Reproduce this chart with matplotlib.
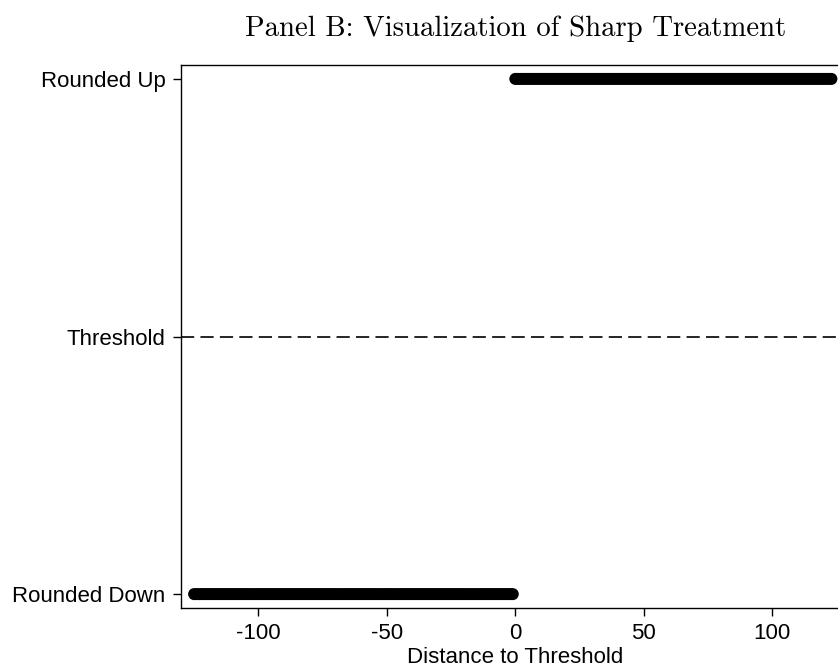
import numpy as np
import matplotlib
matplotlib.use('Agg')
from matplotlib import pyplot as plt

# distance to threshold, one observation per integer distance
down_first, down_last = -125, -1
up_first, up_last = 0, 123
dist_down = np.arange(down_first, down_last + 1)
dist_up = np.arange(up_first, up_last + 1)

y_labels = ['Rounded Down', 'Threshold', 'Rounded Up']
y_ticks = [0, 0.5, 1]
x_ticks = [-100, -50, 0, 50, 100]

plt.rcParams['font.family'] = ['Liberation Sans', 'DejaVu Sans']
plt.rcParams['lines.scale_dashes'] = False

fig = plt.figure(figsize=(8.38, 6.70), dpi=100)
ax = fig.add_axes([0.2157, 0.0925, 0.7985, 0.8105])

ax.scatter(dist_down, np.zeros(len(dist_down)), s=75, color='black', edgecolors='none', zorder=3)
ax.scatter(dist_up, np.ones(len(dist_up)), s=75, color='black', edgecolors='none', zorder=3)
ax.axhline(0.5, color='black', lw=1.2, linestyle=(0, (9.5, 4.5)))

ax.set_xlim(-130.2, 130.2)
ax.set_ylim(-0.027, 1.027)
ax.set_xticks(x_ticks)
ax.set_xticklabels([str(t) for t in x_ticks])
ax.set_yticks(y_ticks)
ax.set_yticklabels(y_labels)
ax.tick_params(direction='out', length=6, width=1.0, labelsize=16, pad=5, colors='black')

for s in ax.spines.values():
    s.set_linewidth(1.0)
    s.set_color('black')

ax.set_xlabel('Distance to Threshold', fontsize=16, labelpad=2)
ax.set_title('Panel B: Visualization of Sharp Treatment', fontfamily='cmr10', fontsize=20.7, pad=21)

fig.savefig('out.png', dpi=100)
